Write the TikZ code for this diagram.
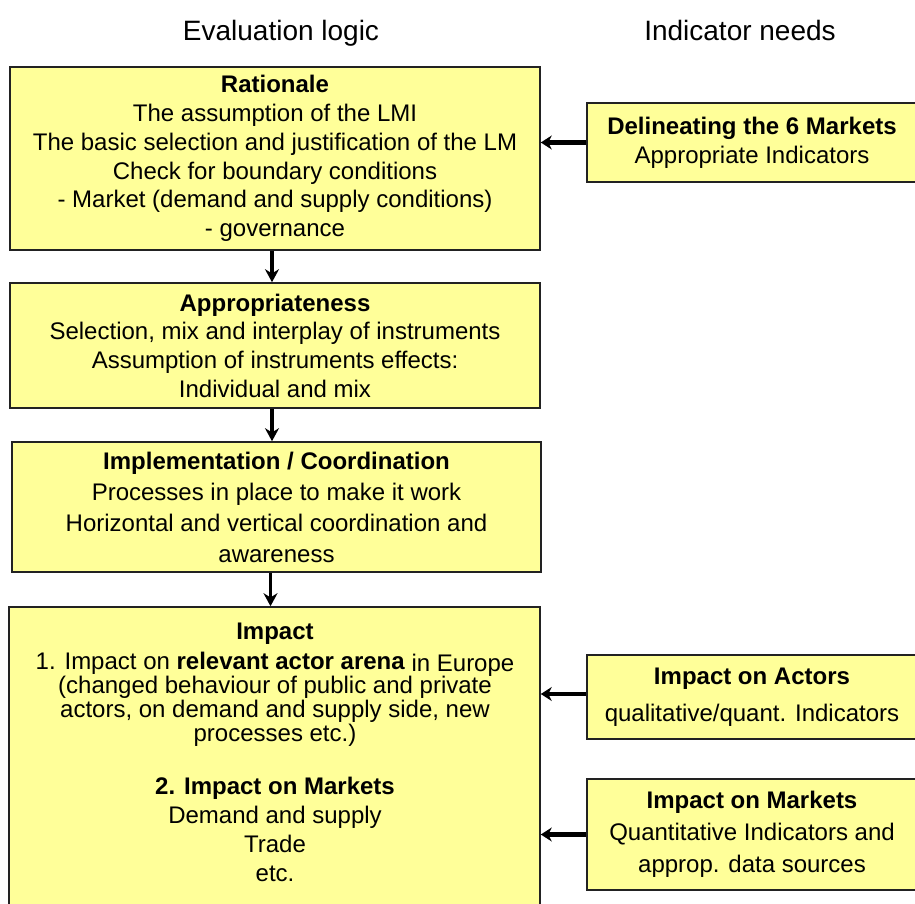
\documentclass[tikz,border=0pt]{standalone}
\usepackage{fontspec}
\setmainfont{Liberation Sans}
\usetikzlibrary{arrows.meta}
\definecolor{boxfill}{HTML}{FFFF99}
\definecolor{boxline}{HTML}{222222}
\begin{document}
\begin{tikzpicture}[x=1pt,y=-1pt,
  box/.style={draw=boxline, line width=1.6pt, fill=boxfill, inner sep=0pt, align=center,
              font=\fontsize{24}{28.7}\selectfont},
  txt/.style={inner sep=0pt, align=center, font=\fontsize{24}{29}\selectfont},
  head/.style={inner sep=0pt, anchor=base, font=\fontsize{28}{30}\selectfont},
  varr/.style={line width=3.2pt, -{Stealth[length=13pt,width=14pt]}},
  harr/.style={line width=4.5pt, -{Stealth[length=11pt,width=14pt]}}]
\useasboundingbox (0,0) rectangle (915,904);
\clip (0,0) rectangle (915,904);

% headers
\node[head] (hl) at (281,41) {Evaluation logic};
\node[head] (hr) at (740,41) {Indicator needs};

% left column
\node[box, minimum width=530pt, minimum height=183pt] (rat) at (275,158.5)
  {\textbf{Rationale}\\The assumption of the LMI\\The basic selection and justification of the LM\\Check for boundary conditions\\- Market (demand and supply conditions)\\- governance};

\node[box, minimum width=530pt, minimum height=125pt] (app) at (275,345.5)
  {\textbf{Appropriateness}\\Selection, mix and interplay of instruments\\Assumption of instruments effects:\\Individual and mix};

\node[box, minimum width=529pt, minimum height=130pt, font=\fontsize{24}{31}\selectfont] (imp) at (276.5,507)
  {\textbf{Implementation / Coordination}\\Processes in place to make it work\\Horizontal and vertical coordination and\\awareness};

\node[box, minimum width=531pt, minimum height=303pt] (impact) at (274.5,758.5) {};
\node[txt, anchor=north] (impacttext) at (275,623)
  {\textbf{Impact}\\[1pt]
   1. Impact on \textbf{relevant actor arena} \raisebox{-1.5pt}{in Europe}\\[-5pt]
   (changed behaviour of public and private\\[-5pt]
   actors, on demand and supply side, new\\[-5pt]
   processes etc.)\\[24pt]
   \textbf{2. Impact on Markets}\\
   Demand and supply\\
   Trade\\
   etc.};

% right column
\node[box, minimum width=330pt, minimum height=79pt, font=\fontsize{24}{29}\selectfont] (del) at (752,142.5)
  {\textbf{Delineating the 6 Markets}\\Appropriate Indicators};

\node[box, minimum width=330pt, minimum height=84pt, font=\fontsize{24}{29}\selectfont] (act) at (752,697)
  {\textbf{Impact on Actors}\\[8pt]qualitative/quant. Indicators};

\node[box, minimum width=330pt, minimum height=111pt, font=\fontsize{24}{29}\selectfont] (mkt) at (752,834.5)
  {\textbf{Impact on Markets}\\[3pt]Quantitative Indicators and\\[3pt]approp. data sources};

% connectors
\draw[varr] ([xshift=-3pt]rat.south) -- ([xshift=-3pt]app.north);
\draw[varr] ([xshift=-3pt]app.north |- app.south) -- ([xshift=-3pt]app.north |- imp.north);
\draw[varr] ([xshift=-6pt]imp.south) -- ([xshift=-6pt]imp.south |- impact.north);

\draw[harr] (del.west) -- (del.west -| rat.east);
\draw[harr] ([yshift=3pt]act.west) -- ([yshift=3pt]act.west -| impact.east);
\draw[harr] (mkt.west) -- (mkt.west -| impact.east);
\end{tikzpicture}
\end{document}
